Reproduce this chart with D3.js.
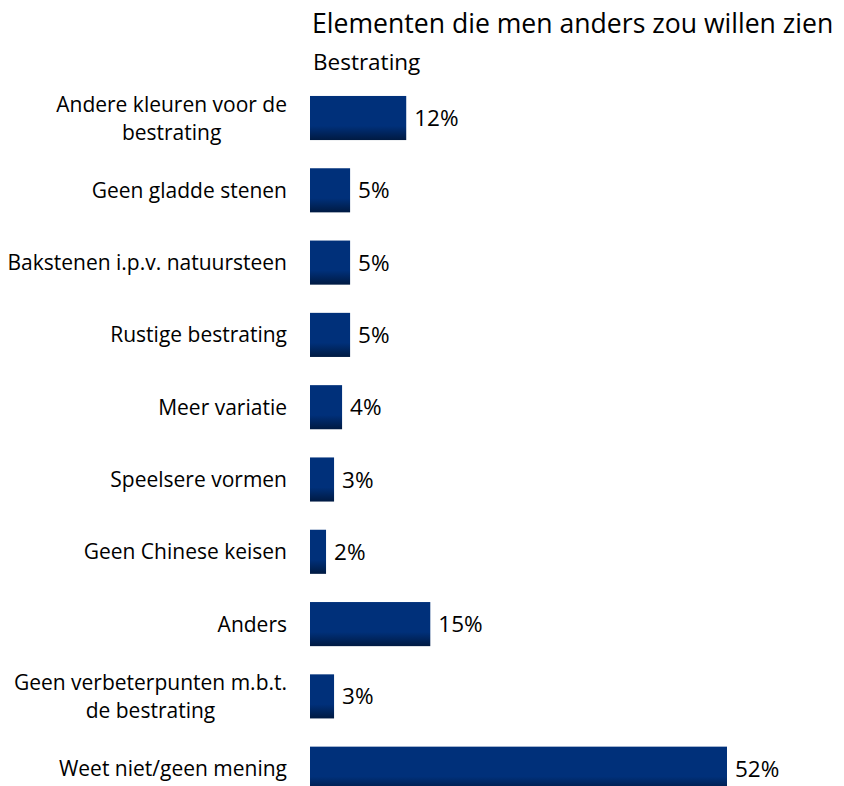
<!DOCTYPE html>
<html>
<head>
<meta charset="utf-8">
<script src="https://cdn.jsdelivr.net/npm/d3@7"></script>
<style>
  body { margin: 0; background: #fff; }
  svg { display: block; font-family: 'Open Sans', Lato, sans-serif; }
</style>
</head>
<body>
<div id="chart"></div>
<script>
// Elementen die men anders zou willen zien - Bestrating
var categories = [
  ['Andere kleuren voor de', 'bestrating'],
  ['Geen gladde stenen'],
  ['Bakstenen i.p.v. natuursteen'],
  ['Rustige bestrating'],
  ['Meer variatie'],
  ['Speelsere vormen'],
  ['Geen Chinese keisen'],
  ['Anders'],
  ['Geen verbeterpunten m.b.t.', 'de bestrating'],
  ['Weet niet/geen mening']
]
var values = [12, 5, 5, 5, 4, 3, 2, 15, 3, 52]
var valueLabels = ['12%', '5%', '5%', '5%', '4%', '3%', '2%', '15%', '3%', '52%']

var width = 844
var height = 786

var svg = d3.select('#chart').append('svg')
  .attr('width', width)
  .attr('height', height)

// bar gradient: flat navy with a darker band at the bottom
var grad = svg.append('defs').append('linearGradient')
  .attr('id', 'barFill')
  .attr('x1', 0).attr('y1', 0).attr('x2', 0).attr('y2', 1)
grad.append('stop').attr('offset', '0%').attr('stop-color', '#00307a')
grad.append('stop').attr('offset', '68%').attr('stop-color', '#00307a')
grad.append('stop').attr('offset', '100%').attr('stop-color', '#001a42')

var idx = d3.range(categories.length)

var x = d3.scaleLinear()
  .domain([0, 52])
  .range([310, 727])

var y = d3.scaleBand()
  .domain(idx)
  .range([81.5, 805.2])
  .paddingInner(0.39)
  .paddingOuter(0.2)

// titles
svg.append('text')
  .attr('x', 312)
  .attr('y', 33)
  .attr('font-size', 26.6)
  .attr('fill', '#000')
  .text('Elementen die men anders zou willen zien')

svg.append('text')
  .attr('x', 313)
  .attr('y', 70)
  .attr('font-size', 22.5)
  .attr('fill', '#000')
  .text('Bestrating')

// bars
svg.selectAll('rect.bar')
  .data(idx)
  .enter().append('rect')
  .attr('class', 'bar')
  .attr('x', x(0))
  .attr('y', function (i) { return y(i) })
  .attr('width', function (i) { return x(values[i]) - x(0) })
  .attr('height', y.bandwidth())
  .attr('fill', 'url(#barFill)')

// value labels
svg.selectAll('text.val')
  .data(idx)
  .enter().append('text')
  .attr('class', 'val')
  .attr('x', function (i) { return x(values[i]) + 8 })
  .attr('y', function (i) { return y(i) + y.bandwidth() / 2 })
  .attr('dy', '0.36em')
  .attr('font-size', 22.5)
  .attr('fill', '#000')
  .text(function (i) { return valueLabels[i] })

// category labels: block right-aligned, lines centered within block
var lineH = 28
var labelRight = 287
var cat = svg.selectAll('g.cat')
  .data(idx)
  .enter().append('g')
  .attr('class', 'cat')

cat.each(function (i) {
  var g = d3.select(this)
  var lines = categories[i]
  var cy = y(i) + y.bandwidth() / 2
  var texts = g.selectAll('text')
    .data(lines)
    .enter().append('text')
    .attr('font-size', 21)
    .attr('fill', '#000')
    .attr('text-anchor', 'middle')
    .attr('y', function (d, k) { return cy + (k - (lines.length - 1) / 2) * lineH })
    .attr('dy', '0.36em')
    .text(function (d) { return d })
  var maxW = 0
  texts.each(function () { maxW = Math.max(maxW, this.getComputedTextLength()) })
  texts.attr('x', labelRight - maxW / 2)
})
</script>
</body>
</html>
